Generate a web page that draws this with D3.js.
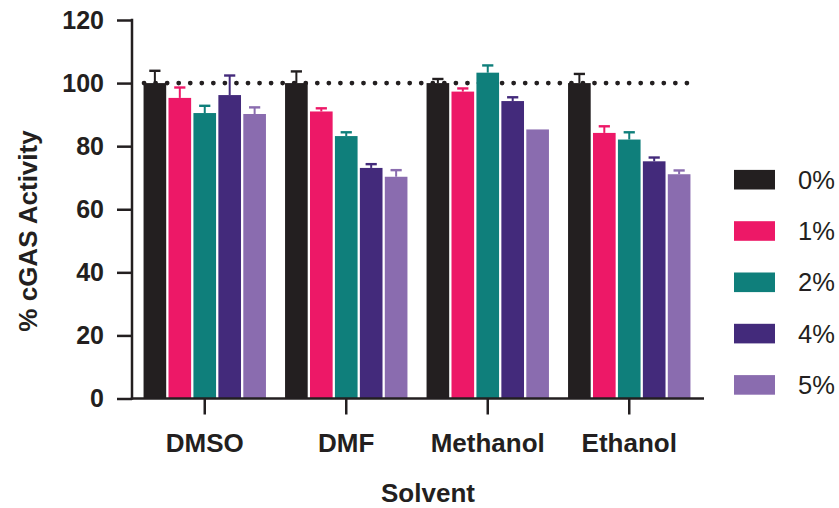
<!DOCTYPE html>
<html>
<head>
<meta charset="utf-8">
<script src="https://cdn.jsdelivr.net/npm/d3@7"></script>
<style>
  html, body { margin: 0; padding: 0; background: #fff; }
  svg { display: block; font-family: "Liberation Sans", Arial, Helvetica, sans-serif; }
</style>
</head>
<body>
<svg id="chart" width="839" height="508"></svg>
<script>
// Solvent groups and solvent concentrations
const solvents = ["DMSO", "DMF", "Methanol", "Ethanol"];
const concentrations = ["0%", "1%", "2%", "4%", "5%"];
const colors = ["#231f20", "#ed1867", "#0f7f7b", "#432a7b", "#8a6caf"];

// Mean % cGAS activity per concentration (one value per solvent)
const activity0 = [100, 100, 100, 100];
const activity1 = [95.3, 91.0, 97.3, 84.2];
const activity2 = [90.5, 83.2, 103.3, 82.1];
const activity4 = [96.2, 73.1, 94.3, 75.2];
const activity5 = [90.2, 70.3, 85.3, 71.1];

// Upper error (SD) per concentration
const error0 = [3.9, 3.7, 1.3, 2.9];
const error1 = [3.3, 1.0, 1.0, 2.1];
const error2 = [2.3, 1.2, 2.3, 2.3];
const error4 = [6.2, 1.2, 1.2, 1.2];
const error5 = [2.1, 2.1, 0, 1.2];

const yTicks = [0, 20, 40, 60, 80, 100, 120];
const referenceLevel = 100;

const means = [activity0, activity1, activity2, activity4, activity5];
const errors = [error0, error1, error2, error4, error5];

const rows = [];
solvents.forEach((s, i) => {
  concentrations.forEach((c, j) => {
    rows.push({ solvent: s, conc: c, idx: j, value: means[j][i], err: errors[j][i] });
  });
});

const svg = d3.select("#chart");
const ink = "#231f20";
const axisLeftX = 132, axisRightX = 704;
const baseY = 398.5, topY = 20;

const x0 = d3.scaleBand().domain(solvents).range([134, 700]).padding(0);
const groupWidth = 122.4;
const x1 = d3.scaleBand().domain(concentrations)
  .range([-groupWidth / 2, groupWidth / 2]).paddingInner(0.092).paddingOuter(0);
const y = d3.scaleLinear().domain([0, 120]).range([baseY, topY]);

// Dotted reference line at 100 %
svg.append("line")
  .attr("x1", x0("DMSO") + x0.bandwidth() / 2 - groupWidth / 2 + 0.5)
  .attr("x2", 698)
  .attr("y1", y(referenceLevel)).attr("y2", y(referenceLevel))
  .attr("stroke", ink).attr("stroke-width", 4.8)
  .attr("stroke-linecap", "round")
  .attr("stroke-dasharray", "0 11.55");

const center = s => x0(s) + x0.bandwidth() / 2;

// Bars
svg.append("g").selectAll("rect").data(rows).join("rect")
  .attr("x", d => center(d.solvent) + x1(d.conc))
  .attr("width", x1.bandwidth())
  .attr("y", d => y(d.value))
  .attr("height", d => y(0) - y(d.value))
  .attr("fill", d => colors[d.idx]);

// Upper error bars
const eb = svg.append("g").selectAll("g").data(rows.filter(d => d.err > 0)).join("g")
  .attr("stroke", d => colors[d.idx]);
eb.append("line")
  .attr("x1", d => center(d.solvent) + x1(d.conc) + x1.bandwidth() / 2)
  .attr("x2", d => center(d.solvent) + x1(d.conc) + x1.bandwidth() / 2)
  .attr("y1", d => y(d.value))
  .attr("y2", d => y(d.value + d.err))
  .attr("stroke-width", 2);
eb.append("line")
  .attr("x1", d => center(d.solvent) + x1(d.conc) + x1.bandwidth() / 2 - 5.6)
  .attr("x2", d => center(d.solvent) + x1(d.conc) + x1.bandwidth() / 2 + 5.6)
  .attr("y1", d => y(d.value + d.err))
  .attr("y2", d => y(d.value + d.err))
  .attr("stroke-width", 2.4);

// Y axis
const yAxis = svg.append("g").attr("transform", `translate(${axisLeftX},0)`)
  .call(d3.axisLeft(y).tickValues(yTicks).tickSize(15).tickPadding(13).tickSizeOuter(0));
yAxis.select(".domain").remove();
yAxis.selectAll(".tick line").attr("stroke", ink).attr("stroke-width", 2.5);
yAxis.selectAll(".tick text").attr("fill", ink)
  .style("font-size", "25px").style("font-weight", "bold");
svg.append("line").attr("x1", axisLeftX).attr("x2", axisLeftX)
  .attr("y1", topY - 1.2).attr("y2", baseY + 1.2)
  .attr("stroke", ink).attr("stroke-width", 2.5);

// X axis
const xAxis = svg.append("g").attr("transform", `translate(0,${baseY})`)
  .call(d3.axisBottom(x0).tickSize(16).tickPadding(19).tickSizeOuter(0));
xAxis.select(".domain").remove();
xAxis.selectAll(".tick line").attr("stroke", ink).attr("stroke-width", 2.5);
xAxis.selectAll(".tick text").attr("fill", ink)
  .style("font-size", "26px").style("font-weight", "bold");
svg.append("line").attr("x1", axisLeftX - 1.2).attr("x2", axisRightX)
  .attr("y1", baseY).attr("y2", baseY)
  .attr("stroke", ink).attr("stroke-width", 2.5);

// Axis titles
svg.append("text")
  .attr("x", 428).attr("y", 502)
  .attr("text-anchor", "middle").attr("fill", ink)
  .style("font-size", "26px").style("font-weight", "bold")
  .text("Solvent");
svg.append("text")
  .attr("transform", "translate(37,231) rotate(-90)")
  .attr("text-anchor", "middle").attr("fill", ink)
  .style("font-size", "26px").style("font-weight", "bold")
  .text("% cGAS Activity");

// Legend
const legend = svg.append("g").selectAll("g").data(concentrations).join("g")
  .attr("transform", (d, i) => `translate(734,${179.7 + i * 51.3})`);
legend.append("rect")
  .attr("x", 0).attr("y", -9.8).attr("width", 41).attr("height", 19.6)
  .attr("fill", (d, i) => colors[i]);
legend.append("text")
  .attr("x", 64).attr("dy", "0.36em").attr("fill", ink)
  .style("font-size", "25.5px")
  .text(d => d);
</script>
</body>
</html>
